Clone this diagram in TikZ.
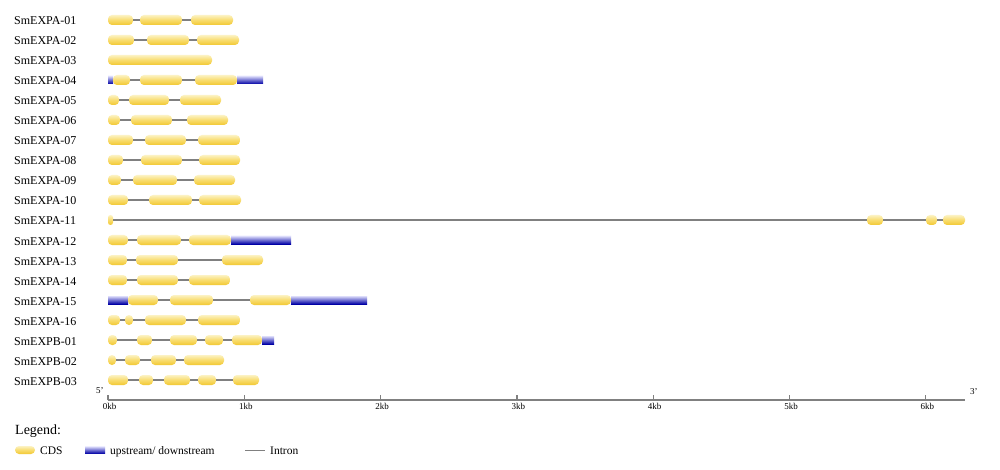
\documentclass[tikz,border=0pt]{standalone}
\usepackage{fontspec}
\setmainfont{Liberation Serif}
\definecolor{cdstop}{RGB}{252,242,195}
\definecolor{cdsmid}{RGB}{248,220,110}
\definecolor{cdsbot}{RGB}{242,200,50}
\definecolor{utrtop}{RGB}{220,220,250}
\definecolor{utrbot}{RGB}{0,0,165}
\definecolor{introngray}{RGB}{128,128,128}
\tikzset{cds/.style={rectangle, inner sep=0pt, outer sep=0pt, minimum height=10pt,
    top color=cdstop, bottom color=cdsbot, middle color=cdsmid},
    utr/.style={rectangle, sharp corners, inner sep=0pt, outer sep=0pt, minimum height=8pt,
    top color=utrtop, bottom color=utrbot},
    intron/.style={draw=introngray, line width=1.4pt},
    axisline/.style={draw=introngray, line width=2pt},
    genename/.style={anchor=base west, inner sep=0pt, font=\fontsize{12}{14}\selectfont},
    legendtext/.style={anchor=base west, inner sep=0pt, font=\fontsize{11.5}{14}\selectfont},
    kblabel/.style={anchor=base, inner sep=0pt, font=\fontsize{9}{10}\selectfont},
    }
% #1 row, #2 gene name, #3 start/end/kind of each segment
\newcommand\genemodel[3]{%
  \node[genename] (name#1) at (14,{20*#1+5}) {#2};
  \foreach \a/\b/\s [count=\i] in {#3} {
    \pgfmathsetmacro\r{min(4,(\b-\a)/2)}
    \node[rounded corners=\r pt, \s, minimum width={(\b-\a)*1pt}] (g#1-\i) at ({(\a+\b)/2},{20*#1}) {};
    \ifnum\i>1 \pgfmathtruncatemacro\j{\i-1}
      \draw[intron] (g#1-\j.east) -- (g#1-\i.west); \fi
  }%
}

\begin{document}
\begin{tikzpicture}[x=1pt, y=-1pt]
\useasboundingbox[fill=white] (0,0) rectangle (1000,470);
\genemodel{1}{SmEXPA-01}{108/133/cds, 140/182/cds, 191/233/cds}
\genemodel{2}{SmEXPA-02}{108/134/cds, 147/189/cds, 197/239/cds}
\genemodel{3}{SmEXPA-03}{108/212/cds}
\genemodel{4}{SmEXPA-04}{108/113/utr, 113/130/cds, 140/182/cds, 195/237/cds, 237/263/utr}
\genemodel{5}{SmEXPA-05}{108/119/cds, 129/169/cds, 180/221/cds}
\genemodel{6}{SmEXPA-06}{108/120/cds, 131/172/cds, 187/228/cds}
\genemodel{7}{SmEXPA-07}{108/133/cds, 145/186/cds, 198/240/cds}
\genemodel{8}{SmEXPA-08}{108/123/cds, 141/182/cds, 199/240/cds}
\genemodel{9}{SmEXPA-09}{108/121/cds, 133/177/cds, 194/235/cds}
\genemodel{10}{SmEXPA-10}{108/128/cds, 149/192/cds, 199/241/cds}
\genemodel{11}{SmEXPA-11}{108/113/cds, 867/883/cds, 926/937/cds, 943/965/cds}
\genemodel{12}{SmEXPA-12}{108/128/cds, 137/181/cds, 189/231/cds, 231/291/utr}
\genemodel{13}{SmEXPA-13}{108/127/cds, 136/178/cds, 222/263/cds}
\genemodel{14}{SmEXPA-14}{108/127/cds, 137/178/cds, 189/230/cds}
\genemodel{15}{SmEXPA-15}{108/128/utr, 128/158/cds, 170/213/cds, 250/291/cds, 291/367/utr}
\genemodel{16}{SmEXPA-16}{108/120/cds, 125/133/cds, 145/186/cds, 198/240/cds}
\genemodel{17}{SmEXPB-01}{108/117/cds, 137/152/cds, 170/197/cds, 205/223/cds, 232/262/cds, 262/274/utr}
\genemodel{18}{SmEXPB-02}{108/116/cds, 125/140/cds, 151/176/cds, 184/224/cds}
\genemodel{19}{SmEXPB-03}{108/128/cds, 139/153/cds, 164/190/cds, 198/216/cds, 233/259/cds}
% scale
\coordinate (ax0) at (108,400);
\coordinate (ax1) at (965,400);
\draw[axisline] (ax0) -- (ax1);
\foreach \k in {0,...,6} {
  \coordinate (tick\k) at ({108+136.3*\k},400);
  \draw[draw=introngray, line width=1.2pt] (tick\k) -- ++(0,-5);
  \node[kblabel] (kb\k) at ({108+136.3*\k+1.5},409.5) {\k kb};
}
\node[kblabel, anchor=base west] (five) at (96,393.5) {5'};
\node[kblabel, anchor=base west] (three) at (970,394) {3'};
% legend
\node[legendtext, font=\fontsize{14}{16}\selectfont] (legend) at (15,434) {Legend:};
\node[cds, rounded corners=4pt, minimum width=20pt, minimum height=8pt, anchor=west] (legcds) at (15,450) {};
\node[legendtext] (legcdstext) at (40,454) {CDS};
\node[utr, minimum width=20pt, minimum height=7pt, anchor=west] (legutr) at (85,450) {};
\node[legendtext] (legutrtext) at (110,454) {upstream/ downstream};
\coordinate (legin0) at (245,450.5);
\coordinate (legin1) at (265,450.5);
\draw[intron] (legin0) -- (legin1);
\node[legendtext] (legintext) at (270,454) {Intron};
\end{tikzpicture}
\end{document}
